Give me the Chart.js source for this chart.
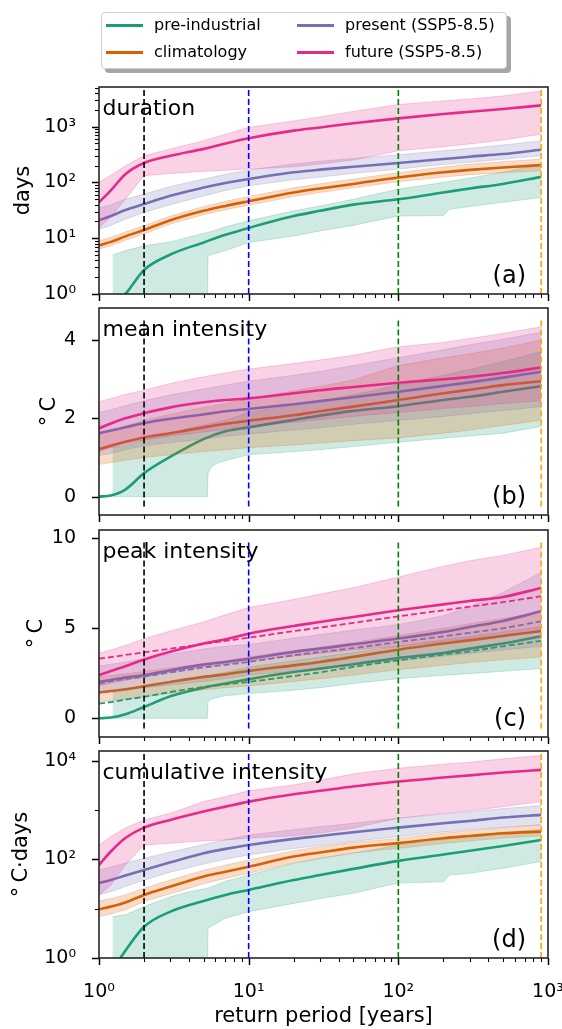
<!DOCTYPE html>
<html>
<head>
<meta charset="utf-8">
<title>Return periods</title>
<script src="https://cdn.jsdelivr.net/npm/chart.js@4.4.1/dist/chart.umd.min.js"></script>
<style>
  html, body { margin:0; padding:0; background:#fff; overflow:hidden; }
  #wrap { position:relative; width:562px; height:1029px; overflow:hidden; background:#fff; }
  #wrap canvas { position:absolute; left:0; top:0; }
  #legend { position:absolute; left:101px; top:12px; width:406px; height:57px; box-sizing:border-box;
            border:1px solid #cfcfcf; border-radius:4px; background:#fff; box-shadow:4px 4px 0 #a6a6a6;
            z-index:10; font-family:'DejaVu Sans'; font-size:16px; color:#000; }
  .lg { position:absolute; height:20px; line-height:20px; white-space:nowrap; }
  .lg i { position:absolute; left:0; top:8.5px; width:37px; height:3px; }
  .lg span { position:absolute; left:48px; top:0; }
</style>
</head>
<body>
<div id="wrap">
  <canvas id="cA" width="600" height="1029"></canvas>
  <canvas id="cB" width="600" height="1029"></canvas>
  <canvas id="cC" width="600" height="1029"></canvas>
  <canvas id="cD" width="600" height="1029"></canvas>
  <div id="legend"></div>
</div>
<script>
// ---------------- data ----------------
const seriesNames = ['pre-industrial', 'climatology', 'present (SSP5-8.5)', 'future (SSP5-8.5)'];
const returnPeriod = [1, 1.2, 1.5, 2, 3, 5, 7, 10, 20, 30, 50, 100, 200, 300, 500, 900];
const thresholdYears = [2, 10, 100, 900];
const xMajorTicks = [1, 10, 100, 1000];
const xTickLabels = ['10⁰', '10¹', '10²', '10³'];

// (a) duration [days]
const durMajorTicks = [1, 10, 100, 1000];
const durTickLabels = ['10⁰', '10¹', '10²', '10³'];
const durPreX   = [1.23, 1.5, 2, 3, 4, 5.3, 5.35, 7, 10, 20, 30, 50, 100, 200, 220, 300, 500, 900];
const durPreLo  = [0.5, 0.5, 0.5, 0.5, 0.5, 0.5, 4.9, 6, 8.4, 11, 13.5, 17, 25, 25.5, 33, 37, 44, 54];
const durPreHi  = [5, 6, 7.3, 8.6, 10.5, 12.7, 12.7, 16, 20.6, 31, 38, 50, 76, 100, 105, 120, 152, 214];
const durPreMed = [0.35, 0.6, 1.0, 2.7, 5.1, 8.4, 11.5, 15.3, 25, 31, 40, 50, 66, 78, 94, 126];
const durClimLo  = [6.4, 7.3, 9.2, 12, 18, 26.5, 32.5, 39, 56, 66, 80, 103, 125, 138, 150, 162];
const durClimHi  = [9, 10.3, 13, 16.8, 25, 37, 46, 56, 80, 95, 115, 150, 190, 212, 236, 263];
const durClimMed = [7.4, 8.6, 10.8, 14, 21, 31, 38, 46, 66, 78, 94, 123, 152, 168, 186, 205];
const durPresLo  = [14.5, 17, 22, 29, 40, 57, 72, 87, 112, 125, 145, 174, 210, 230, 260, 300];
const durPresHi  = [35, 40, 50, 62, 85, 115, 140, 167, 215, 240, 270, 314, 370, 410, 470, 560];
const durPresMed = [21, 25, 32, 41, 58, 81, 98, 115, 152, 170, 191, 223, 263, 290, 323, 387];
const durFutLo  = [15.6, 24, 50, 132, 145, 158, 165, 174, 191, 214, 252, 370, 437, 490, 575, 735];
const durFutHi  = [100, 135, 200, 300, 400, 560, 735, 970, 1270, 1500, 1880, 2500, 2900, 3150, 3560, 4370];
const durFutMed = [44, 72, 141, 223, 300, 400, 500, 620, 850, 970, 1150, 1410, 1690, 1850, 2080, 2410];

// (b) mean intensity [°C]
const meanTicks = [0, 2, 4];
const meanTickLabels = ['0', '2', '4'];
const meanPreX   = [1.23, 1.5, 2, 3, 4, 5.3, 5.35, 5.6, 6.2, 7, 10, 20, 30, 50, 100, 200, 300, 500, 900];
const meanPreLo  = [0, 0, 0, 0, 0, 0, 0.6, 0.75, 0.86, 0.92, 1.07, 1.15, 1.2, 1.28, 1.39, 1.49, 1.55, 1.62, 1.79];
const meanPreHi  = [1.25, 1.3, 1.45, 1.6, 1.75, 1.85, 1.85, 1.87, 1.9, 1.95, 2.15, 2.35, 2.45, 2.6, 2.85, 3.1, 3.25, 3.45, 3.7];
const meanPreMed = [0, 0.03, 0.18, 0.6, 1.02, 1.47, 1.67, 1.77, 1.96, 2.07, 2.19, 2.31, 2.47, 2.55, 2.68, 2.82];
const meanClimLo  = [0.82, 0.87, 0.93, 1.0, 1.07, 1.15, 1.2, 1.25, 1.32, 1.37, 1.43, 1.5, 1.62, 1.7, 1.82, 1.95];
const meanClimHi  = [1.6, 1.68, 1.8, 1.95, 2.1, 2.28, 2.38, 2.5, 2.7, 2.82, 2.98, 3.35, 3.55, 3.65, 3.8, 4.0];
const meanClimMed = [1.21, 1.3, 1.4, 1.51, 1.62, 1.77, 1.86, 1.94, 2.08, 2.18, 2.3, 2.47, 2.64, 2.73, 2.85, 2.95];
const meanPresLo  = [1.05, 1.1, 1.2, 1.3, 1.38, 1.47, 1.54, 1.6, 1.7, 1.76, 1.85, 1.95, 2.05, 2.12, 2.2, 2.3];
const meanPresHi  = [2.15, 2.22, 2.32, 2.45, 2.6, 2.75, 2.85, 2.95, 3.1, 3.2, 3.35, 3.55, 3.75, 3.88, 4.02, 4.2];
const meanPresMed = [1.62, 1.69, 1.77, 1.88, 1.99, 2.1, 2.18, 2.24, 2.36, 2.44, 2.54, 2.68, 2.83, 2.92, 3.04, 3.19];
const meanFutLo  = [1.15, 1.25, 1.35, 1.45, 1.55, 1.65, 1.72, 1.8, 1.9, 1.97, 2.05, 2.15, 2.25, 2.3, 2.38, 2.45];
const meanFutHi  = [2.42, 2.51, 2.61, 2.72, 2.89, 3.06, 3.16, 3.26, 3.4, 3.49, 3.61, 3.83, 3.94, 4.04, 4.17, 4.34];
const meanFutMed = [1.74, 1.87, 2.0, 2.13, 2.28, 2.41, 2.47, 2.51, 2.64, 2.72, 2.8, 2.91, 3.0, 3.06, 3.16, 3.3];

// (c) peak intensity [°C]  (solid = empirical, dashed = fit)
const peakTicks = [0, 5, 10];
const peakTickLabels = ['0', '5', '10'];
const peakPreX   = [1.23, 1.5, 2, 3, 4, 5.3, 5.35, 5.6, 6.4, 7, 10, 20, 30, 50, 100, 200, 300, 500, 900];
const peakPreLo  = [0, 0, 0, 0, 0, 0, 0.9, 1.05, 1.2, 1.25, 1.37, 1.56, 1.7, 1.93, 2.2, 2.39, 2.48, 2.61, 2.76];
const peakPreHi  = [1.45, 1.55, 1.75, 2.0, 2.2, 2.35, 2.35, 2.4, 2.5, 2.55, 2.85, 3.2, 3.4, 3.65, 4.0, 4.35, 4.55, 4.8, 5.1];
const peakPreMed = [0, 0.04, 0.22, 0.63, 1.22, 1.7, 1.93, 2.17, 2.57, 2.76, 3.0, 3.35, 3.63, 3.87, 4.15, 4.56];
const peakPreFit = [0.81, 0.9, 1.04, 1.19, 1.46, 1.74, 1.88, 2.02, 2.35, 2.55, 2.85, 3.22, 3.54, 3.72, 4.0, 4.3];
const peakClimLo  = [0.9, 0.97, 1.05, 1.2, 1.38, 1.58, 1.7, 1.8, 2.05, 2.2, 2.4, 2.7, 2.95, 3.1, 3.25, 3.4];
const peakClimHi  = [2.3, 2.38, 2.47, 2.6, 2.8, 3.05, 3.2, 3.4, 3.75, 3.95, 4.2, 4.6, 5.0, 5.25, 5.55, 5.9];
const peakClimMed = [1.43, 1.52, 1.61, 1.78, 2.02, 2.3, 2.44, 2.63, 2.94, 3.13, 3.41, 3.81, 4.15, 4.33, 4.57, 4.85];
const peakPresLo  = [1.4, 1.48, 1.57, 1.7, 1.85, 2.05, 2.2, 2.4, 2.6, 2.75, 2.95, 3.2, 3.45, 3.6, 3.8, 4.0];
const peakPresHi  = [2.9, 3.0, 3.12, 3.3, 3.55, 3.85, 4.0, 4.1, 4.45, 4.65, 4.9, 5.2, 5.7, 6.2, 7.0, 8.1];
const peakPresMed = [2.02, 2.13, 2.26, 2.39, 2.67, 2.98, 3.13, 3.31, 3.69, 3.87, 4.11, 4.43, 4.8, 5.07, 5.41, 5.94];
const peakPresFit = [1.93, 2.05, 2.18, 2.32, 2.55, 2.82, 2.97, 3.13, 3.5, 3.68, 3.9, 4.24, 4.55, 4.75, 5.0, 5.39];
const peakFutLo  = [1.8, 1.95, 2.1, 2.3, 2.55, 2.85, 3.0, 3.2, 3.45, 3.6, 3.8, 4.0, 4.25, 4.4, 4.6, 4.8];
const peakFutHi  = [3.62, 3.8, 4.05, 4.42, 4.85, 5.35, 5.75, 6.15, 6.6, 6.9, 7.25, 7.85, 8.45, 8.75, 9.05, 9.5];
const peakFutMed = [2.39, 2.63, 2.89, 3.26, 3.69, 4.15, 4.39, 4.7, 5.13, 5.35, 5.63, 6.0, 6.33, 6.52, 6.74, 7.24];
const peakFutFit = [3.31, 3.4, 3.52, 3.66, 3.87, 4.13, 4.3, 4.48, 4.84, 5.04, 5.3, 5.66, 6.0, 6.2, 6.45, 6.78];

// (d) cumulative intensity [°C·days]
const cumMajorTicks = [1, 100, 10000];
const cumMinorTicks = [10, 1000];
const cumTickLabels = ['10⁰', '10²', '10⁴'];
const cumPreX   = [1.23, 1.5, 2, 3, 4, 5.3, 5.35, 7, 10, 20, 30, 50, 100, 200, 220, 300, 500, 900];
const cumPreLo  = [0.5, 0.5, 0.5, 0.5, 0.5, 0.5, 4, 6.4, 8.7, 12.8, 16, 20.5, 33, 35, 48, 52, 66, 90];
const cumPreHi  = [6.9, 7.5, 11, 17.5, 22, 26, 26, 36, 48, 83, 105, 133, 195, 250, 260, 300, 350, 400];
const cumPreMed = [0.2, 0.5, 1.4, 4.3, 8.7, 14.3, 19, 24, 38, 48, 64, 93, 125, 149, 187, 246];
const cumClimLo  = [6.9, 7.8, 9.5, 13.9, 20, 32, 41, 52, 85, 105, 135, 167, 210, 235, 270, 300];
const cumClimHi  = [14.3, 16, 19, 26, 38, 60, 76, 97, 150, 180, 220, 268, 340, 380, 440, 500];
const cumClimMed = [9.7, 11, 13.3, 19, 28, 45, 56, 71, 114, 138, 173, 213, 268, 297, 337, 365];
const cumPresLo  = [19, 22, 28, 38, 55, 80, 100, 123, 165, 190, 230, 290, 360, 400, 450, 500];
const cumPresHi  = [60, 70, 84, 105, 140, 200, 250, 310, 400, 460, 540, 680, 830, 920, 1070, 1230];
const cumPresMed = [33, 38, 47, 61, 87, 133, 163, 195, 260, 297, 355, 440, 540, 600, 705, 795];
const cumFutLo  = [19, 30, 77, 195, 213, 237, 246, 270, 300, 340, 430, 680, 860, 960, 1170, 1480];
const cumFutHi  = [195, 290, 430, 630, 860, 1480, 1870, 2450, 3220, 4000, 5400, 7000, 8500, 9300, 10900, 12700];
const cumFutMed = [77, 144, 270, 440, 630, 930, 1170, 1480, 2090, 2450, 3000, 3780, 4550, 5040, 5750, 6500];

// ---------------- styles ----------------
const PALETTE = ['#1b9e77', '#d95f02', '#7570b3', '#e7298a'];
const VLINE_COLORS = ['#000000', '#0000ff', '#008000', '#ffa500'];
const FONT = 'DejaVu Sans';

function rgba(hex, a) {
  const n = parseInt(hex.slice(1), 16);
  return 'rgba(' + ((n >> 16) & 255) + ',' + ((n >> 8) & 255) + ',' + (n & 255) + ',' + a + ')';
}
function pts(xs, ys) { return xs.map((x, i) => ({x: x, y: ys[i]})); }
function decadeMinors(majors, max) {
  const out = [];
  majors.forEach(m => { for (let k = 2; k <= 9; k++) { if (m * k <= max) out.push(m * k); } });
  return out;
}
function labelFor(v, majors, labels) {
  const i = majors.findIndex(m => Math.abs(m - v) <= 1e-9 * Math.max(1, Math.abs(m)));
  return i >= 0 ? labels[i] : '';
}
const xAllTicks = xMajorTicks.concat(decadeMinors(xMajorTicks, 1000)).sort((a, b) => a - b);

// legend
(function () {
  const lg = document.getElementById('legend');
  const pos = [[4, 2], [4, 29], [195, 2], [195, 29]];
  seriesNames.forEach((name, i) => {
    const d = document.createElement('div');
    d.className = 'lg';
    d.style.left = pos[i][0] + 'px';
    d.style.top = pos[i][1] + 'px';
    d.innerHTML = '<i style="background:' + PALETTE[i] + '"></i><span></span>';
    d.querySelector('span').textContent = name;
    lg.appendChild(d);
  });
})();

// decoration plugin: frame, outward ticks, panel texts, y title
const decor = {
  id: 'decor',
  afterDatasetsDraw(chart, args, o) {
    const {ctx, chartArea: a} = chart;
    ctx.save();
    ctx.fillStyle = '#000';
    ctx.textBaseline = 'alphabetic';
    ctx.font = '22px "' + FONT + '"';
    ctx.textAlign = 'left';
    ctx.fillText(o.name, a.left + 3.5, a.top + 27.7);
    ctx.font = '24px "' + FONT + '"';
    ctx.textAlign = 'right';
    ctx.fillText(o.letter, a.right - 22, a.bottom - 11);
    ctx.restore();
  },
  afterDraw(chart, args, o) {
    const {ctx, chartArea: a} = chart;
    const xs = chart.scales.x, ys = chart.scales.y;
    ctx.save();
    ctx.strokeStyle = '#000';
    const seg = (x1, y1, x2, y2, w) => { ctx.lineWidth = w; ctx.beginPath(); ctx.moveTo(x1, y1); ctx.lineTo(x2, y2); ctx.stroke(); };
    xs.ticks.forEach(t => {
      const px = Math.round(xs.getPixelForValue(t.value)) + 0.5;
      const maj = o.xMajor.includes(t.value);
      seg(px, a.bottom, px, a.bottom + (maj ? 7 : 4), maj ? 1.5 : 1.1);
    });
    ys.ticks.forEach(t => {
      const py = Math.round(ys.getPixelForValue(t.value)) + 0.5;
      const maj = o.yMajor.includes(t.value);
      seg(a.left, py, a.left - (maj ? 7 : 4), py, maj ? 1.5 : 1.1);
    });
    ctx.strokeStyle = '#262626';
    ctx.lineWidth = 1.6;
    ctx.strokeRect(a.left, a.top, a.right - a.left, a.bottom - a.top);
    // y-axis title (rotated), baseline at o.titleBase
    ctx.fillStyle = '#000';
    ctx.font = '21px "' + FONT + '"';
    ctx.textAlign = 'center';
    ctx.textBaseline = 'alphabetic';
    ctx.translate(o.titleBase, (a.top + a.bottom) / 2);
    ctx.rotate(-Math.PI / 2);
    ctx.fillText(o.yTitle, 0, 0);
    ctx.restore();
  }
};

const CANVAS_W = 600, CANVAS_H = 1029, AREA_LEFT = 99, AREA_RIGHT = 548;

const panels = [
  { canvas: 'cA', top: 87, bottom: 294, yType: 'logarithmic', yMin: 1, yMax: 5150,
    yMajor: durMajorTicks, yLabels: durTickLabels, yMinor: decadeMinors(durMajorTicks, 5150),
    yTitle: 'days', titleBase: 28.5, name: 'duration', letter: '(a)', vRange: [1, 5150], showX: false,
    bands: [[durPreX, durPreLo, durPreHi], [returnPeriod, durClimLo, durClimHi], [returnPeriod, durPresLo, durPresHi], [returnPeriod, durFutLo, durFutHi]],
    meds: [durPreMed, durClimMed, durPresMed, durFutMed], fits: [] },
  { canvas: 'cB', top: 308, bottom: 515, yType: 'linear', yMin: -0.47, yMax: 4.82,
    yMajor: meanTicks, yLabels: meanTickLabels, yMinor: [],
    yTitle: '°\u2009C', titleBase: 54.5, name: 'mean intensity', letter: '(b)', vRange: [-0.25, 4.5], showX: false,
    bands: [[meanPreX, meanPreLo, meanPreHi], [returnPeriod, meanClimLo, meanClimHi], [returnPeriod, meanPresLo, meanPresHi], [returnPeriod, meanFutLo, meanFutHi]],
    meds: [meanPreMed, meanClimMed, meanPresMed, meanFutMed], fits: [] },
  { canvas: 'cC', top: 530, bottom: 737, yType: 'linear', yMin: -1.04, yMax: 10.46,
    yMajor: peakTicks, yLabels: peakTickLabels, yMinor: [],
    yTitle: '°\u2009C', titleBase: 41.5, name: 'peak intensity', letter: '(c)', vRange: [-0.57, 9.8], showX: false,
    bands: [[peakPreX, peakPreLo, peakPreHi], [returnPeriod, peakClimLo, peakClimHi], [returnPeriod, peakPresLo, peakPresHi], [returnPeriod, peakFutLo, peakFutHi]],
    meds: [peakPreMed, peakClimMed, peakPresMed, peakFutMed],
    fits: [[0, peakPreFit], [2, peakPresFit], [3, peakFutFit]] },
  { canvas: 'cD', top: 751, bottom: 958, yType: 'logarithmic', yMin: 1, yMax: 15700,
    yMajor: cumMajorTicks, yLabels: cumTickLabels, yMinor: cumMinorTicks,
    yTitle: '°\u2009C·days', titleBase: 26.5, name: 'cumulative intensity', letter: '(d)', vRange: [1, 15700], showX: true,
    bands: [[cumPreX, cumPreLo, cumPreHi], [returnPeriod, cumClimLo, cumClimHi], [returnPeriod, cumPresLo, cumPresHi], [returnPeriod, cumFutLo, cumFutHi]],
    meds: [cumPreMed, cumClimMed, cumPresMed, cumFutMed], fits: [] }
];

panels.forEach(P => {
  const datasets = [];
  for (let k = 0; k < 4; k++) {
    const c = PALETTE[k];
    const [bx, lo, hi] = P.bands[k];
    const bandOrder = 9 - 2 * k;
    datasets.push({ data: pts(bx, lo), borderColor: rgba(c, 0.22), borderWidth: 1, pointRadius: 0, fill: false, tension: 0, order: bandOrder, clip: 0 });
    datasets.push({ data: pts(bx, hi), borderColor: rgba(c, 0.22), borderWidth: 1, backgroundColor: rgba(c, 0.21), pointRadius: 0, fill: '-1', tension: 0, order: bandOrder, clip: 0 });
    datasets.push({ data: pts(returnPeriod, P.meds[k]), borderColor: c, borderWidth: 2.6, pointRadius: 0, fill: false, cubicInterpolationMode: 'monotone', order: bandOrder - 1, clip: 0 });
  }
  P.fits.forEach(([k, ys]) => {
    datasets.push({ data: pts(returnPeriod, ys), borderColor: PALETTE[k], borderWidth: 1.8, borderDash: [6, 3], pointRadius: 0, fill: false, cubicInterpolationMode: 'monotone', order: 1, clip: 0 });
  });
  thresholdYears.forEach((yr, i) => {
    datasets.push({ data: [{x: yr, y: P.vRange[0]}, {x: yr, y: P.vRange[1]}], borderColor: VLINE_COLORS[i], borderWidth: 1.6, borderDash: [6, 3], pointRadius: 0, fill: false, order: 0, clip: 0 });
  });

  const xAxisH = P.showX ? 71 : 10;
  const yTickVals = P.yMajor.concat(P.yMinor).sort((a, b) => a - b);
  new Chart(document.getElementById(P.canvas), {
    type: 'line',
    data: { datasets: datasets },
    plugins: [decor],
    options: {
      responsive: false, animation: false, devicePixelRatio: 1,
      layout: { padding: { left: 0, right: CANVAS_W - AREA_RIGHT, top: P.top, bottom: CANVAS_H - P.bottom - xAxisH } },
      plugins: {
        legend: { display: false }, tooltip: { enabled: false },
        decor: { name: P.name, letter: P.letter, xMajor: xMajorTicks, yMajor: P.yMajor, yTitle: P.yTitle, titleBase: P.titleBase }
      },
      scales: {
        x: {
          type: 'logarithmic', min: 1, max: 1000,
          grid: { display: false }, border: { display: false },
          afterBuildTicks: s => { s.ticks = xAllTicks.map(v => ({ value: v })); },
          afterFit: s => { s.height = xAxisH; },
          ticks: { autoSkip: false, maxRotation: 0, minRotation: 0, padding: 14.6, color: '#000',
                   font: { family: FONT, size: 19 },
                   callback: v => P.showX ? labelFor(v, xMajorTicks, xTickLabels) : '' },
          title: { display: P.showX, text: 'return period [years]', color: '#000',
                   font: { family: FONT, size: 21 }, padding: { top: 0, bottom: 0 } }
        },
        y: {
          type: P.yType, min: P.yMin, max: P.yMax,
          grid: { display: false }, border: { display: false },
          afterBuildTicks: s => { s.ticks = yTickVals.map(v => ({ value: v })); },
          afterFit: s => { s.width = AREA_LEFT; },
          ticks: { autoSkip: false, padding: 15, color: '#000', font: { family: FONT, size: 19 },
                   callback: v => labelFor(v, P.yMajor, P.yLabels) },
          title: { display: false }
        }
      }
    }
  });
});
</script>
</body>
</html>
